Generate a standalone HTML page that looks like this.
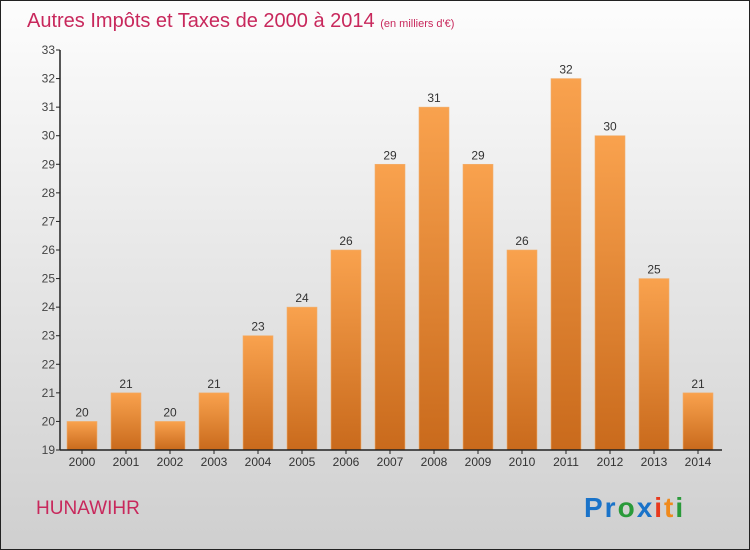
<!DOCTYPE html>
<html><head><meta charset="utf-8"><style>
body{margin:0;width:750px;height:550px;overflow:hidden}
svg{display:block;font-family:"Liberation Sans",sans-serif}
</style></head><body>
<svg width="750" height="550">
<defs>
<linearGradient id="bg" x1="0" y1="0" x2="0" y2="1"><stop offset="0" stop-color="#fdfdfd"/><stop offset="1" stop-color="#cfcfcf"/></linearGradient>
<linearGradient id="bar" x1="0" y1="0" x2="0" y2="1"><stop offset="0" stop-color="#f9a24e"/><stop offset="1" stop-color="#c96a1c"/></linearGradient>
</defs>
<rect x="0.5" y="0.5" width="749" height="549" fill="url(#bg)" stroke="#222"/>
<text x="27" y="27" font-size="20" fill="#c8285c">Autres Impôts et Taxes de 2000 à 2014 <tspan font-size="11">(en milliers d'€)</tspan></text>
<g id="plot"></g>
<text x="36" y="514" font-size="19" fill="#c8285c">HUNAWIHR</text>
<text x="584" y="517" font-size="28" font-weight="bold" letter-spacing="2"><tspan fill="#1a73c9">Pr</tspan><tspan fill="#2a9a3a">o</tspan><tspan fill="#1a73c9">x</tspan><tspan fill="#e8391d">i</tspan><tspan fill="#f08a1c">t</tspan><tspan fill="#2a9a3a">i</tspan></text>
</svg>
<script>
const years=["2000","2001","2002","2003","2004","2005","2006","2007","2008","2009","2010","2011","2012","2013","2014"];
const values=[20,21,20,21,23,24,26,29,31,29,26,32,30,25,21];
const ticks=[19,20,21,22,23,24,25,26,27,28,29,30,31,32,33];
const NS="http://www.w3.org/2000/svg";
const g=document.getElementById('plot');
const y=v=>450-(v-19)*400/14;
const x=i=>82+i*44;
function mk(t,a){const e=document.createElementNS(NS,t);for(const k in a)e.setAttribute(k,a[k]);g.appendChild(e);return e;}
ticks.forEach(t=>{
 const l=mk('line',{x1:56,x2:60,y1:y(t),y2:y(t),stroke:'#222'});
 
 
 const tx=mk('text',{x:55,y:y(t)+4,'font-size':12,'text-anchor':'end',fill:'#444'});
 tx.textContent=t;
 
 
});
values.forEach((v,i)=>{
 const r=mk('rect',{x:x(i)-15,y:y(v),width:30,height:450-y(v),fill:'url(#bar)',stroke:'#f0b070','stroke-width':0.6});
 
 
 const t=mk('text',{x:x(i),y:y(v)-5,'font-size':12,'text-anchor':'middle',fill:'#333'});
 t.textContent=v;
 
 
 const tk=mk('line',{x1:x(i),x2:x(i),y1:450,y2:454,stroke:'#222'});
 
 
 const xl=mk('text',{x:x(i),y:466,'font-size':12,'text-anchor':'middle',fill:'#333'});
 xl.textContent=years[i];
 
 
});
const ya=mk('line',{x1:60,x2:60,y1:50,y2:450,stroke:'#222','stroke-width':1.5});


const xa=mk('line',{x1:60,x2:722,y1:450,y2:450,stroke:'#222','stroke-width':1.5});


</script>
</body></html>
